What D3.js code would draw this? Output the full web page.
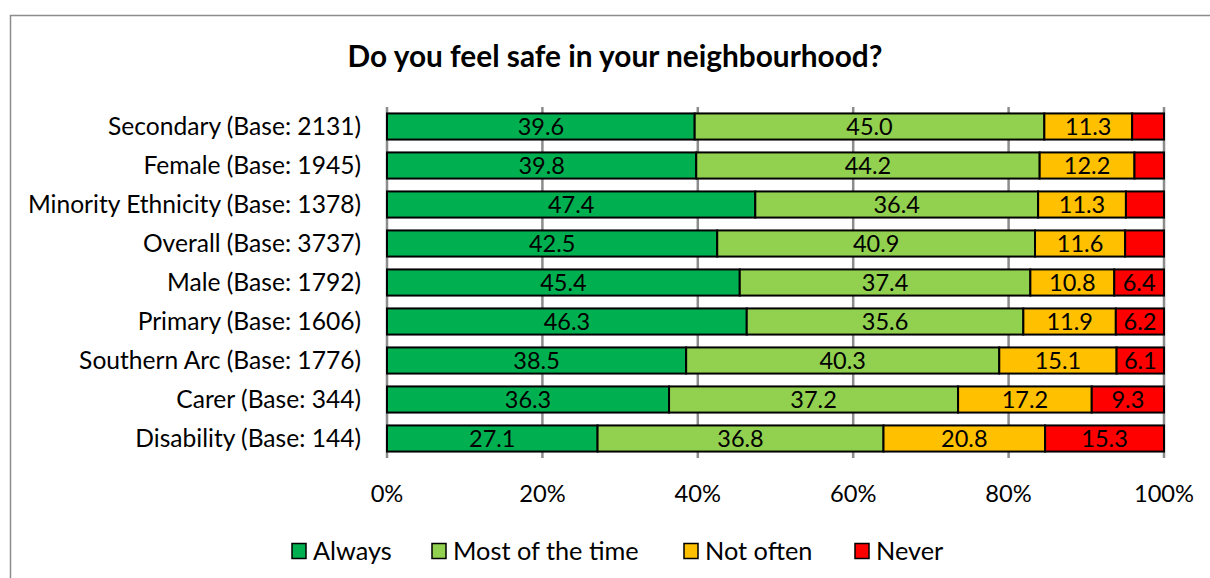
<!DOCTYPE html>
<html><head><meta charset="utf-8">
<script src="https://cdn.jsdelivr.net/npm/d3@7"></script>
<style>body{margin:0;background:#fff}svg{display:block;font-family:Lato,"Open Sans",sans-serif}</style>
</head><body><svg id="c" width="1210" height="578"></svg>
<script>
const categories = ["Secondary (Base: 2131)","Female (Base: 1945)","Minority Ethnicity (Base: 1378)","Overall (Base: 3737)","Male (Base: 1792)","Primary (Base: 1606)","Southern Arc (Base: 1776)","Carer (Base: 344)","Disability (Base: 144)"];
const seriesNames = ["Always","Most of the time","Not often","Never"];
const always = [39.6,39.8,47.4,42.5,45.4,46.3,38.5,36.3,27.1];
const mostOfTheTime = [45.0,44.2,36.4,40.9,37.4,35.6,40.3,37.2,36.8];
const notOften = [11.3,12.2,11.3,11.6,10.8,11.9,15.1,17.2,20.8];
const never = [4.1,3.8,4.9,5.0,6.4,6.2,6.1,9.3,15.3];
const tickValues = [0,20,40,60,80,100];
const colors = ["#00B050","#92D050","#FFC000","#FF0000"];

const svg = d3.select("#c");
// chart border
svg.append("path").attr("d","M10.5,578 L10.5,15.5 L1210,15.5").attr("fill","none").attr("stroke","#8c8c8c").attr("stroke-width",1.5);

svg.append("text").attr("x",615).attr("y",67).attr("text-anchor","middle")
  .attr("font-weight","bold").attr("font-size",29.8).text("Do you feel safe in your neighbourhood?");

const x = d3.scaleLinear().domain([0,100]).range([387,1164]);
const y = d3.scaleBand().domain(categories).range([107,458]).paddingInner(0.33).paddingOuter(0.165);

// gridlines
svg.append("g").selectAll("line").data(tickValues).join("line")
  .attr("x1",d=>x(d)).attr("x2",d=>x(d)).attr("y1",107).attr("y2",458)
  .attr("stroke","#8c8c8c").attr("stroke-width",2.5);

const rows = categories.map((c,i)=>({cat:c, vals:[always[i],mostOfTheTime[i],notOften[i],never[i]]}));
const segs = [];
rows.forEach(r=>{let acc=0; r.vals.forEach((v,k)=>{segs.push({cat:r.cat,k,v,x0:acc,x1:acc+v}); acc+=v;});});

svg.append("g").selectAll("rect").data(segs).join("rect")
  .attr("x",d=>x(d.x0)).attr("width",d=>x(d.x1)-x(d.x0))
  .attr("y",d=>y(d.cat)).attr("height",y.bandwidth())
  .attr("fill",d=>colors[d.k]).attr("stroke","#000").attr("stroke-width",2);

svg.append("g").selectAll("text").data(segs.filter(d=>d.v>=6)).join("text")
  .attr("x",d=>x((d.x0+d.x1)/2)).attr("y",d=>y(d.cat)+y.bandwidth()/2+8.5)
  .attr("text-anchor","middle").attr("font-size",23.5).attr("fill","#000")
  .text(d=>d.v.toFixed(1));

// category axis labels
svg.append("g").selectAll("text").data(categories).join("text")
  .attr("x",361).attr("y",d=>y(d)+y.bandwidth()/2+8.5).attr("text-anchor","end")
  .attr("font-size",24.6).attr("fill","#000").text(d=>d);

// x tick labels
svg.append("g").selectAll("text").data(tickValues).join("text")
  .attr("x",d=>x(d)).attr("y",502).attr("text-anchor","middle")
  .attr("font-size",23.7).attr("fill","#000").text(d=>d+"%");

// legend
const legendX = [292,432,684,855];
const lg = svg.append("g").selectAll("g").data(seriesNames).join("g")
  .attr("transform",(d,i)=>`translate(${legendX[i]},551)`);
lg.append("rect").attr("x",0).attr("y",-7.5).attr("width",14).attr("height",15)
  .attr("fill",(d,i)=>colors[i]).attr("stroke","#000").attr("stroke-width",1.5);
lg.append("text").attr("x",21).attr("y",9).attr("font-size",25.3).text(d=>d);
</script></body></html>
